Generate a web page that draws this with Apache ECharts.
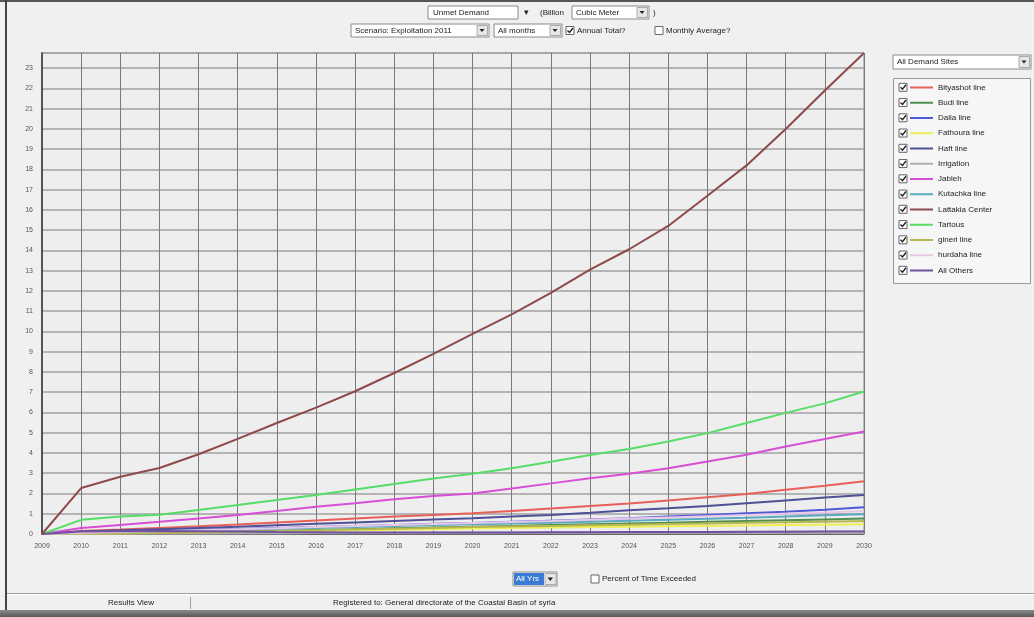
<!DOCTYPE html>
<html><head><meta charset="utf-8">
<script src="https://cdn.jsdelivr.net/npm/echarts@6/dist/echarts.min.js"></script>
<style>html,body{margin:0;padding:0;background:#f0f0f0;overflow:hidden}#c{width:1034px;height:617px}</style>
</head><body><div id="c"></div>
<script>
// ---- data ----
const years = ['2009','2010','2011','2012','2013','2014','2015','2016','2017','2018','2019','2020','2021','2022','2023','2024','2025','2026','2027','2028','2029','2030'];
const siteNames = ['Bityashot line','Budi line','Dalia line','Fathoura line','Haft line','Irrigation','Jableh','Kutachka line','Lattakia Center','Tartous','gineri line','hurdaha line','All Others'];
const bityashot = [0,0.15,0.22,0.3,0.38,0.47,0.57,0.67,0.77,0.86,0.94,1.02,1.14,1.26,1.38,1.5,1.66,1.82,1.98,2.18,2.38,2.6];
const budi      = [0,0.03,0.05,0.07,0.1,0.13,0.16,0.2,0.24,0.28,0.32,0.36,0.4,0.44,0.48,0.52,0.56,0.6,0.64,0.68,0.72,0.76];
const dalia     = [0,0.08,0.13,0.17,0.21,0.25,0.3,0.35,0.4,0.45,0.5,0.54,0.6,0.66,0.72,0.78,0.86,0.94,1.02,1.1,1.2,1.32];
const fathoura  = [0,0.02,0.04,0.06,0.08,0.1,0.12,0.15,0.18,0.21,0.24,0.27,0.3,0.32,0.34,0.36,0.38,0.4,0.42,0.44,0.46,0.48];
const haft      = [0,0.12,0.18,0.24,0.3,0.36,0.43,0.5,0.57,0.64,0.71,0.78,0.86,0.94,1.05,1.17,1.27,1.38,1.52,1.66,1.8,1.93];
const irrigation= [0,0.01,0.02,0.03,0.03,0.04,0.04,0.05,0.05,0.06,0.06,0.07,0.07,0.08,0.08,0.09,0.09,0.1,0.1,0.11,0.11,0.12];
const jableh    = [0,0.3,0.45,0.6,0.77,0.94,1.13,1.34,1.52,1.71,1.88,2.0,2.25,2.5,2.75,2.97,3.25,3.58,3.91,4.32,4.69,5.06];
const kutachka  = [0,0.05,0.09,0.13,0.17,0.21,0.26,0.3,0.35,0.4,0.44,0.48,0.52,0.56,0.6,0.65,0.7,0.75,0.8,0.86,0.92,0.98];
const lattakia  = [0,2.27,2.83,3.26,3.94,4.7,5.48,6.24,7.05,7.95,8.89,9.88,10.84,11.91,13.05,14.06,15.21,16.7,18.2,20.0,21.9,23.75];
const tartous   = [0,0.7,0.86,0.95,1.18,1.43,1.68,1.93,2.2,2.47,2.74,2.98,3.25,3.57,3.9,4.2,4.57,4.98,5.48,5.98,6.45,7.04];
const gineri    = [0,0.02,0.03,0.05,0.08,0.11,0.14,0.18,0.22,0.26,0.3,0.34,0.37,0.4,0.43,0.46,0.49,0.52,0.55,0.58,0.61,0.64];
const hurdaha   = [0,0.06,0.1,0.14,0.19,0.24,0.29,0.34,0.39,0.44,0.49,0.54,0.59,0.64,0.7,0.76,0.82,0.88,0.94,1.0,1.06,1.12];
const allOthers = [0,0.12,0.14,0.15,0.14,0.12,0.1,0.09,0.08,0.08,0.08,0.08,0.08,0.09,0.09,0.1,0.1,0.1,0.11,0.11,0.12,0.12];
const yTicks = [0,1,2,3,4,5,6,7,8,9,10,11,12,13,14,15,16,17,18,19,20,21,22,23];

const seriesValues = [bityashot,budi,dalia,fathoura,haft,irrigation,jableh,kutachka,lattakia,tartous,gineri,hurdaha,allOthers];
const seriesColors = ['#e8605a','#4f8f4f','#5058d8','#eeee55','#505098','#b0b0b0','#d64fd6','#5aaac0','#8e4a4a','#55dd66','#b8b850','#e8c8e8','#7050a0'];

// ---- UI helpers ----
const FONT = 'Liberation Sans';
function txt(x,y,s,opt){return Object.assign({type:'text',x:x,y:y,style:Object.assign({text:s,fill:'#222',font:'8px "'+FONT+'"',textVerticalAlign:'middle'},opt||{})});}
function combo(x,y,w,h,label){
  return [
    {type:'rect',shape:{x:x,y:y,width:w,height:h},style:{fill:'#fff',stroke:'#8a8a8a',lineWidth:1}},
    txt(x+4,y+h/2,label),
    {type:'rect',shape:{x:x+w-12,y:y+1.5,width:10.5,height:h-3},style:{fill:'#e6e6e6',stroke:'#aaa',lineWidth:1}},
    {type:'polygon',shape:{points:[[x+w-9.5,y+h/2-1.5],[x+w-4.5,y+h/2-1.5],[x+w-7,y+h/2+1.5]]},style:{fill:'#222'}}
  ];
}
function checkbox(x,y,checked){
  const a=[{type:'rect',shape:{x:x,y:y,width:8,height:8},style:{fill:'#fff',stroke:'#666',lineWidth:1}}];
  if(checked) a.push({type:'polyline',shape:{points:[[x+1.5,y+4],[x+3.5,y+6],[x+7,y+1.5]]},style:{stroke:'#222',lineWidth:1.4,fill:null}});
  return a;
}

const g = [];
// window frame
g.push({type:'rect',shape:{x:0,y:0,width:1034,height:2},style:{fill:'#555'}});
g.push({type:'rect',shape:{x:5,y:0,width:2,height:617},style:{fill:'#444'}});
// row 1
g.push(...[
  {type:'rect',shape:{x:428,y:6,width:90,height:13},style:{fill:'#fff',stroke:'#8a8a8a',lineWidth:1}},
  txt(433,12.5,'Unmet Demand'),
  txt(524,12.5,'\u25BE',{font:'9px "DejaVu Sans"'}),
  txt(540,12.5,'(Billion'),
]);
g.push(...combo(572,6,77,13,'Cubic Meter'));
g.push(txt(653,12.5,')'));
// row 2
g.push(...combo(351,24,138,13,'Scenario: Exploitation 2011'));
g.push(...combo(494,24,68,13,'All months'));
g.push(...checkbox(566,26.5,true));
g.push(txt(577,30.5,'Annual Total?'));
g.push(...checkbox(655,26.5,false));
g.push(txt(666,30.5,'Monthly Average?'));
// right: demand site selector + legend box
g.push(...combo(893,55,138,14,'All Demand Sites'));
g.push({type:'rect',shape:{x:893.5,y:78.5,width:137,height:205},style:{fill:'#f6f6f6',stroke:'#9a9a9a',lineWidth:1}});
for(let i=0;i<siteNames.length;i++){ g.push(...checkbox(899,83.3+i*15.25,true)); }
// bottom controls
g.push({type:'rect',shape:{x:513,y:572,width:44,height:14},style:{fill:'#fff',stroke:'#8a8a8a',lineWidth:1}});
g.push({type:'rect',shape:{x:514,y:573,width:30,height:12},style:{fill:'#3a7bd5'}});
g.push(txt(516,579,'All Yrs',{fill:'#fff'}));
g.push({type:'rect',shape:{x:545,y:573.5,width:11,height:11},style:{fill:'#e6e6e6',stroke:'#aaa',lineWidth:1}});
g.push({type:'polygon',shape:{points:[[547.5,577.5],[553,577.5],[550.3,581]]},style:{fill:'#222'}});
g.push(...checkbox(591,575,false));
g.push(txt(602,579,'Percent of Time Exceeded'));
// status bar
g.push({type:'rect',shape:{x:7,y:593,width:1027,height:1},style:{fill:'#a0a0a0'}});
g.push({type:'rect',shape:{x:7,y:594,width:1027,height:1},style:{fill:'#fff'}});
g.push({type:'rect',shape:{x:190,y:597,width:1,height:12},style:{fill:'#a0a0a0'}});
g.push(txt(108,603,'Results View'));
g.push(txt(333,603,'Registered to: General directorate of the Coastal Basin of syria'));
g.push({type:'rect',shape:{x:0,y:610,width:1034,height:7},style:{fill:new echarts.graphic.LinearGradient(0,0,0,1,[{offset:0,color:'#8a8a8a'},{offset:1,color:'#5a5a5a'}])}});

const chart = echarts.init(document.getElementById('c'));
chart.setOption({
  backgroundColor:'#f0f0f0',
  animation:false,
  textStyle:{fontFamily:FONT},
  grid:{left:42,right:170,top:53,bottom:83,show:true,backgroundColor:'#eeeeee',borderColor:'#8a8a8a',borderWidth:1},
  legend:{
    orient:'vertical',left:910,top:80,padding:0,itemGap:0.25,itemWidth:23,itemHeight:2,icon:'rect',
    selectedMode:false,
    textStyle:{fontSize:8,color:'#222',lineHeight:15,fontFamily:FONT},
    data:siteNames
  },
  xAxis:{
    type:'category',data:years,boundaryGap:false,
    axisLine:{lineStyle:{color:'#666',width:1}},
    axisTick:{show:false},
    axisLabel:{fontSize:7,color:'#555',margin:9,interval:0},
    splitLine:{show:true,lineStyle:{color:'#7a7a7a',width:1}}
  },
  yAxis:{
    type:'value',min:0,max:23.75,interval:1,
    axisLine:{show:true,lineStyle:{color:'#555',width:2}},
    axisTick:{show:false},
    axisLabel:{fontSize:7,color:'#555',margin:9,formatter:function(v){return yTicks.indexOf(v)>=0?String(v):'';}},
    splitLine:{show:true,lineStyle:{color:'#a0a0a0',width:1.5}}
  },
  series:siteNames.map(function(n,i){return {
    name:n,type:'line',data:seriesValues[i],symbol:'none',
    color:seriesColors[i],
    lineStyle:{color:seriesColors[i],width:2},
    z:(n==='Lattakia Center')?5:2
  };}),
  graphic:g
});
</script>
</body></html>
